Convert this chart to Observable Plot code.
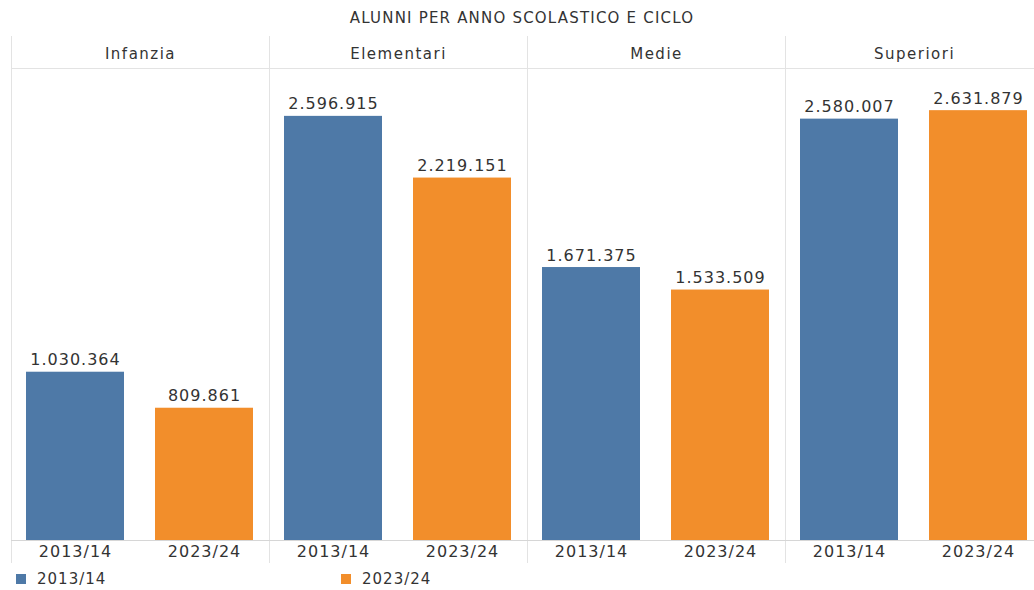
<!DOCTYPE html>
<html>
<head>
<meta charset="utf-8">
<script src="https://cdn.jsdelivr.net/npm/d3@7"></script>
<script src="https://cdn.jsdelivr.net/npm/@observablehq/plot@0.6"></script>
<style>
  html, body { margin: 0; padding: 0; background: #fff; overflow: hidden; }
  body { width: 1034px; height: 590px; font-family: "DejaVu Sans", sans-serif; color: #333; }
  #wrap { width: 1044px; }
  #title { height: 32px; line-height: 36px; text-align: center; font-size: 15px; letter-spacing: 1.2px; color: #333; }
  #legend { margin-left: 16px; margin-top: 0px; }
  div.lg-swatches { font-family: "DejaVu Sans", sans-serif !important; font-size: 15px !important; letter-spacing: 1px; color: #333; margin: 0 !important; }
  div.lg-swatches-wrap { min-height: 18px !important; }
  div.lg-swatches > .lg-swatch { width: 325px; margin: 0 !important; }
  div.lg-swatches > .lg-swatch > svg { margin-right: 11px; }
</style>
</head>
<body>
<div id="wrap">
  <div id="title">ALUNNI PER ANNO SCOLASTICO E CICLO</div>
  <div id="chart"></div>
  <div id="legend"></div>
</div>
<script>
const cicli = ["Infanzia", "Elementari", "Medie", "Superiori"];
const anni = ["2013/14", "2023/24"];
const valori2013 = [1030364, 2596915, 1671375, 2580007];
const valori2023 = [809861, 2219151, 1533509, 2631879];
const colori = ["#4e79a7", "#f28e2b"];

const data = [];
cicli.forEach((c, i) => {
  data.push({ciclo: c, anno: anni[0], valore: valori2013[i]});
  data.push({ciclo: c, anno: anni[1], valore: valori2023[i]});
});

const it = d3.formatLocale({decimal: ",", thousands: ".", grouping: [3], currency: ["€", ""]});
const fmt = it.format(",d");
const gridColor = "#e3e3e3";

const plot = Plot.plot({
  width: 1044,
  height: 538,
  marginLeft: 10,
  marginRight: 0,
  marginTop: 36,
  marginBottom: 30,
  style: {fontFamily: "DejaVu Sans, sans-serif", color: "#333", background: "#fff"},
  fx: {domain: cicli, padding: 0},
  x: {domain: anni, paddingInner: 0.24, paddingOuter: 0.12},
  y: {domain: [0, 2890000]},
  color: {domain: anni, range: colori},
  marks: [
    Plot.frame({anchor: "left", stroke: gridColor, insetTop: -32, insetBottom: -22}),
    Plot.ruleY([2890000], {stroke: gridColor}),
    Plot.barY(data, {fx: "ciclo", x: "anno", y: "valore", fill: "anno"}),
    Plot.ruleY([0], {stroke: "#d6d6d6"}),
    Plot.text(data, {fx: "ciclo", x: "anno", y: "valore", text: d => fmt(d.valore), dy: -7, lineAnchor: "bottom", fontSize: 16, fill: "#333", className: "vlab"}),
    Plot.axisFx({anchor: "top", tickSize: 0, tickPadding: 10, label: null, fontSize: 15, className: "fxax"}),
    Plot.axisX({anchor: "bottom", tickSize: 0, tickPadding: 5, label: null, fontSize: 16, className: "xax"}),
    Plot.axisY({ticks: [], label: null})
  ]
});
plot.querySelectorAll(".vlab text, .xax text").forEach(t => t.style.letterSpacing = "1px");
plot.querySelectorAll(".fxax text").forEach(t => t.style.letterSpacing = "1.5px");
document.getElementById("chart").appendChild(plot);

const leg = Plot.legend({color: {domain: anni, range: colori}, legend: "swatches", swatchSize: 10, className: "lg"});
document.getElementById("legend").appendChild(leg);
</script>
</body>
</html>
